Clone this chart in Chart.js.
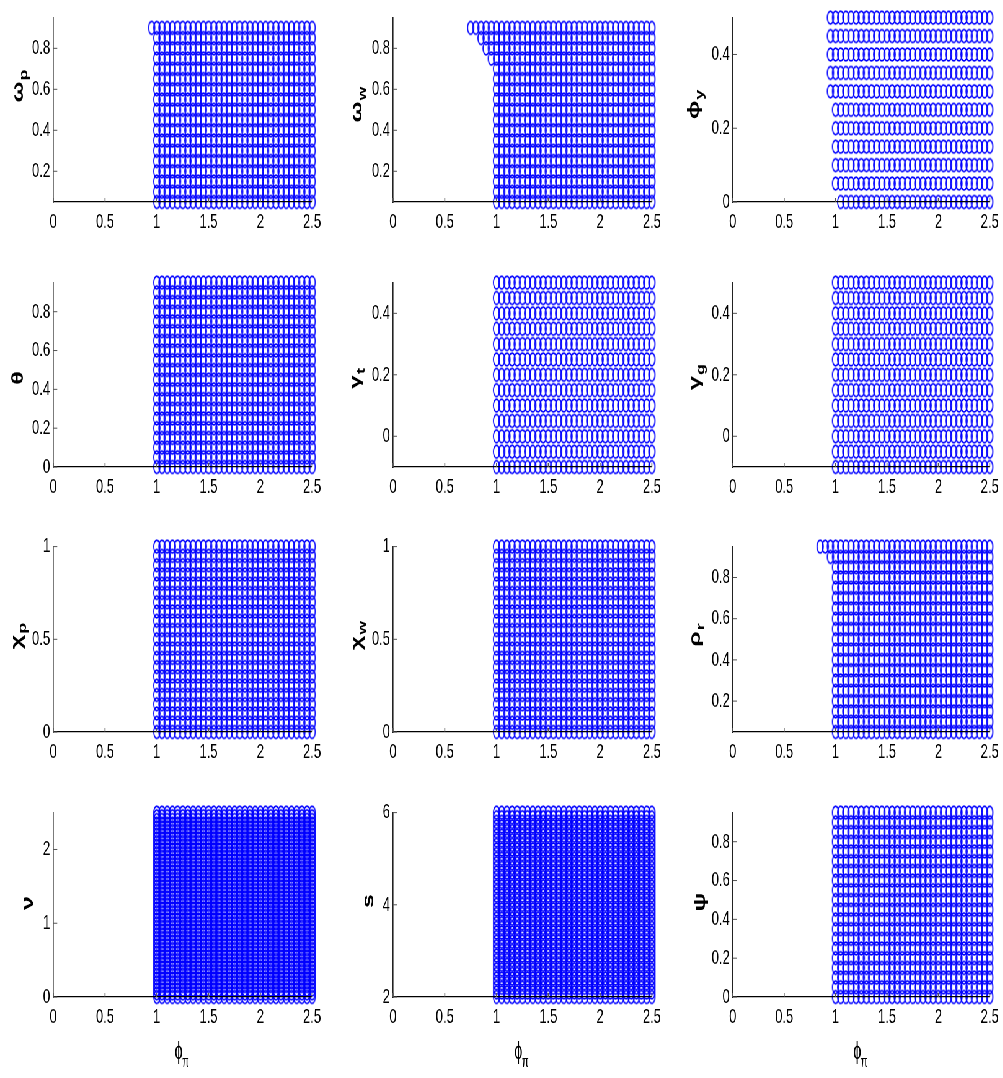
<!DOCTYPE html>
<html>
<head>
<meta charset="utf-8">
<script src="https://cdn.jsdelivr.net/npm/chart.js@4.4.0/dist/chart.umd.min.js"></script>
<style>
  html, body { margin:0; padding:0; background:#fff; overflow:hidden; }
  #fig { position:absolute; left:0; top:0; width:1618px; height:1078px; transform:scaleX(0.62); transform-origin:0 0; }
  #fig canvas { position:absolute; }
</style>
</head>
<body>
<div id="fig"></div>
<script>
// ── data: phi_pi grid (x) and the determinate parameter values (y) per panel ──
const PHI_PI = [0.75,0.8,0.85,0.9,0.95,1,1.05,1.1,1.15,1.2,1.25,1.3,1.35,1.4,1.45,1.5,1.55,1.6,1.65,1.7,1.75,1.8,1.85,1.9,1.95,2,2.05,2.1,2.15,2.2,2.25,2.3,2.35,2.4,2.45,2.5];
const X_TICKS = [0,0.5,1,1.5,2,2.5];

const OMEGA_P = [0.05,0.1,0.15,0.2,0.25,0.3,0.35,0.4,0.45,0.5,0.55,0.6,0.65,0.7,0.75,0.8,0.85,0.9];
const OMEGA_W = [0.05,0.1,0.15,0.2,0.25,0.3,0.35,0.4,0.45,0.5,0.55,0.6,0.65,0.7,0.75,0.8,0.85,0.9];
const PHI_Y   = [0,0.05,0.1,0.15,0.2,0.25,0.3,0.35,0.4,0.45,0.5];
const THETA   = [0,0.05,0.1,0.15,0.2,0.25,0.3,0.35,0.4,0.45,0.5,0.55,0.6,0.65,0.7,0.75,0.8,0.85,0.9,0.95];
const GAMMA_T = [-0.1,-0.05,0,0.05,0.1,0.15,0.2,0.25,0.3,0.35,0.4,0.45,0.5];
const GAMMA_G = [-0.1,-0.05,0,0.05,0.1,0.15,0.2,0.25,0.3,0.35,0.4,0.45,0.5];
const CHI_P   = [0,0.05,0.1,0.15,0.2,0.25,0.3,0.35,0.4,0.45,0.5,0.55,0.6,0.65,0.7,0.75,0.8,0.85,0.9,0.95,1];
const CHI_W   = [0,0.05,0.1,0.15,0.2,0.25,0.3,0.35,0.4,0.45,0.5,0.55,0.6,0.65,0.7,0.75,0.8,0.85,0.9,0.95,1];
const RHO_R   = [0.05,0.1,0.15,0.2,0.25,0.3,0.35,0.4,0.45,0.5,0.55,0.6,0.65,0.7,0.75,0.8,0.85,0.9,0.95];
const NU      = [0,0.05,0.1,0.15,0.2,0.25,0.3,0.35,0.4,0.45,0.5,0.55,0.6,0.65,0.7,0.75,0.8,0.85,0.9,0.95,1,1.05,1.1,1.15,1.2,1.25,1.3,1.35,1.4,1.45,1.5,1.55,1.6,1.65,1.7,1.75,1.8,1.85,1.9,1.95,2,2.05,2.1,2.15,2.2,2.25,2.3,2.35,2.4,2.45,2.5];
const S_VAL   = [2,2.1,2.2,2.3,2.4,2.5,2.6,2.7,2.8,2.9,3,3.1,3.2,3.3,3.4,3.5,3.6,3.7,3.8,3.9,4,4.1,4.2,4.3,4.4,4.5,4.6,4.7,4.8,4.9,5,5.1,5.2,5.3,5.4,5.5,5.6,5.7,5.8,5.9,6];
const PSI     = [0,0.05,0.1,0.15,0.2,0.25,0.3,0.35,0.4,0.45,0.5,0.55,0.6,0.65,0.7,0.75,0.8,0.85,0.9,0.95];

// rows where the determinacy region starts at a phi_pi other than 1 : [value, first phi_pi]
const OMEGA_P_EDGE = [[0.9,0.95]];
const OMEGA_W_EDGE = [[0.9,0.75],[0.85,0.85],[0.8,0.9],[0.75,0.95]];
const PHI_Y_EDGE   = [[0.5,0.95],[0.45,0.95],[0.4,0.95],[0.35,0.95],[0.3,0.95],[0,1.05]];
const RHO_R_EDGE   = [[0.95,0.85],[0.9,0.95]];

// y tick labels
const T_08 = [0.2,0.4,0.6,0.8];
const T_0_08 = [0,0.2,0.4,0.6,0.8];
const T_04 = [0,0.2,0.4];
const T_1 = [0,0.5,1];
const T_NU = [0,1,2];
const T_S = [2,4,6];

// ── layout (page px) ──
const SX = 0.62;
const COL_X0 = [53.3,393.3,732.7], COL_X1 = [312,652,990];
const ROW_Y0 = [12,277,541,807],   ROW_Y1 = [202,467,732,997];
const YAX = 52, PAD_R = 14, PAD_T = 12, XAX = 40, PAD_B = 60;
const FONT = "'Liberation Sans', Arial, 'DejaVu Sans', sans-serif";

const PANELS = [
  { rows:OMEGA_P, edge:OMEGA_P_EDGE, min:0.05, max:0.95, ticks:T_08,   lab:'ω', sub:'p', lx:19,  ly:92 },
  { rows:OMEGA_W, edge:OMEGA_W_EDGE, min:0.05, max:0.95, ticks:T_08,   lab:'ω', sub:'w', lx:358, ly:112 },
  { rows:PHI_Y,   edge:PHI_Y_EDGE,   min:0,    max:0.5,  ticks:T_04,   lab:'ϕ', sub:'y', lx:695, ly:110 },
  { rows:THETA,   edge:[],           min:0,    max:0.95, ticks:T_0_08, lab:'θ', sub:'',  lx:19,  ly:378 },
  { rows:GAMMA_T, edge:[],           min:-0.1, max:0.5,  ticks:T_04,   lab:'γ', sub:'t', lx:357, ly:382 },
  { rows:GAMMA_G, edge:[],           min:-0.1, max:0.5,  ticks:T_04,   lab:'γ', sub:'g', lx:696, ly:383 },
  { rows:CHI_P,   edge:[],           min:0,    max:1,    ticks:T_1,    lab:'χ', sub:'p', lx:18,  ly:642 },
  { rows:CHI_W,   edge:[],           min:0,    max:1,    ticks:T_1,    lab:'χ', sub:'w', lx:358, ly:643 },
  { rows:RHO_R,   edge:RHO_R_EDGE,   min:0.05, max:0.95, ticks:T_08,   lab:'ρ', sub:'r', lx:696, ly:639 },
  { rows:NU,      edge:[],           min:0,    max:2.5,  ticks:T_NU,   lab:'ν', sub:'',  lx:29,  ly:903 },
  { rows:S_VAL,   edge:[],           min:2,    max:6,    ticks:T_S,    lab:'s', sub:'',  lx:370, ly:901 },
  { rows:PSI,     edge:[],           min:0,    max:0.95, ticks:T_0_08, lab:'ψ', sub:'',  lx:701, ly:902 },
];

function grid(rows, edge) {
  const pts = [];
  rows.forEach(yv => {
    const e = edge.find(p => p[0] === yv);
    const from = e ? e[1] : 1;
    PHI_PI.forEach(xv => { if (xv >= from - 1e-9) pts.push({ x:xv, y:yv }); });
  });
  return pts;
}

// open 'o' marker, drawn as an upright ellipse (the figure is squeezed sideways)
const marker = document.createElement('canvas');
marker.width = 14; marker.height = 17;
(() => {
  const m = marker.getContext('2d');
  m.strokeStyle = '#0000ff';
  m.lineWidth = 1.8;
  m.beginPath();
  m.ellipse(7, 8.5, 5.0, 6.4, 0, 0, Math.PI * 2);
  m.stroke();
})();

// inward MATLAB-style ticks + axis labels
const decor = {
  id:'decor',
  afterDraw(chart) {
    const o = chart.options.plugins.decor;
    const { ctx, chartArea:a, scales:{ x, y } } = chart;
    ctx.save();
    ctx.strokeStyle = '#555';
    ctx.lineWidth = 1.6;
    X_TICKS.forEach(v => {
      const px = x.getPixelForValue(v);
      ctx.beginPath(); ctx.moveTo(px, a.bottom); ctx.lineTo(px, a.bottom - 4); ctx.stroke();
    });
    ctx.lineWidth = 1;
    o.ticks.forEach(v => {
      const py = y.getPixelForValue(v);
      ctx.beginPath(); ctx.moveTo(a.left, py); ctx.lineTo(a.left + 4 / SX, py); ctx.stroke();
    });
    ctx.fillStyle = '#000';
    // y label, rotated
    ctx.save();
    ctx.translate((o.lx - o.left) / SX, o.ly - o.top);
    ctx.rotate(-Math.PI / 2);
    ctx.font = 'bold 25px ' + FONT;
    const w = ctx.measureText(o.lab).width;
    ctx.textAlign = 'center'; ctx.textBaseline = 'alphabetic';
    ctx.fillText(o.lab, 0, 6);
    if (o.sub) {
      ctx.font = 'bold 18px ' + FONT;
      ctx.textAlign = 'left';
      ctx.fillText(o.sub, w / 2 + 1, 13);
    }
    ctx.restore();
    // x title on the bottom row
    if (o.last) {
      const cx = (a.left + a.right) / 2 - 4 / SX;
      const cy = a.bottom + 56;
      ctx.font = '23px ' + FONT;
      const pw = ctx.measureText('ϕ').width;
      ctx.textAlign = 'center'; ctx.textBaseline = 'alphabetic';
      ctx.fillText('ϕ', cx, cy + 6);
      ctx.font = '16px ' + FONT;
      ctx.textAlign = 'left';
      ctx.fillText('π', cx + pw / 2 - 1, cy + 14);
    }
    ctx.restore();
  }
};

const fig = document.getElementById('fig');
PANELS.forEach((p, i) => {
  const c = i % 3, r = Math.floor(i / 3), last = r === 3;
  const left = COL_X0[c] - YAX, top = ROW_Y0[r] - PAD_T;
  const wOrig = YAX + (COL_X1[c] - COL_X0[c]) + PAD_R;
  const h = PAD_T + (ROW_Y1[r] - ROW_Y0[r]) + XAX + (last ? PAD_B : 0);
  const cv = document.createElement('canvas');
  cv.width = Math.round(wOrig / SX); cv.height = Math.round(h);
  cv.style.left = (left / SX) + 'px'; cv.style.top = top + 'px';
  cv.style.width = cv.width + 'px'; cv.style.height = cv.height + 'px';
  fig.appendChild(cv);

  new Chart(cv, {
    type:'scatter',
    data:{ datasets:[{
      data:grid(p.rows, p.edge),
      showLine:false, clip:false,
      pointStyle:marker, pointRadius:6, pointHoverRadius:6,
      borderColor:'#0000ff', backgroundColor:'rgba(0,0,0,0)', borderWidth:1,
    }]},
    options:{
      responsive:false, animation:false, devicePixelRatio:1,
      layout:{ padding:{ left:0, top:PAD_T, right:PAD_R / SX, bottom:last ? PAD_B : 0 } },
      plugins:{
        legend:{ display:false }, tooltip:{ enabled:false },
        decor:{ ticks:p.ticks, lab:p.lab, sub:p.sub, lx:p.lx, ly:p.ly, left, top, last },
      },
      scales:{
        x:{
          type:'linear', min:0, max:2.5,
          afterBuildTicks:s => { s.ticks = X_TICKS.map(v => ({ value:v })); },
          afterFit:s => { s.height = XAX; },
          grid:{ display:false, drawTicks:false },
          border:{ display:true, color:'#000', width:1.3, z:1 },
          ticks:{ color:'#000', padding:8, maxRotation:0, autoSkip:false, font:{ family:FONT, size:21 },
                  callback:v => String(v) },
        },
        y:{
          type:'linear', min:p.min, max:p.max,
          afterBuildTicks:s => { s.ticks = p.ticks.map(v => ({ value:v })); },
          afterFit:s => { s.width = YAX / SX; },
          grid:{ display:false, drawTicks:false },
          border:{ display:true, color:'#222', width:1.6 },
          ticks:{ color:'#000', padding:5, autoSkip:false, font:{ family:FONT, size:21 },
                  callback:v => String(v) },
        },
      },
    },
    plugins:[decor],
  });
});
</script>
</body>
</html>
